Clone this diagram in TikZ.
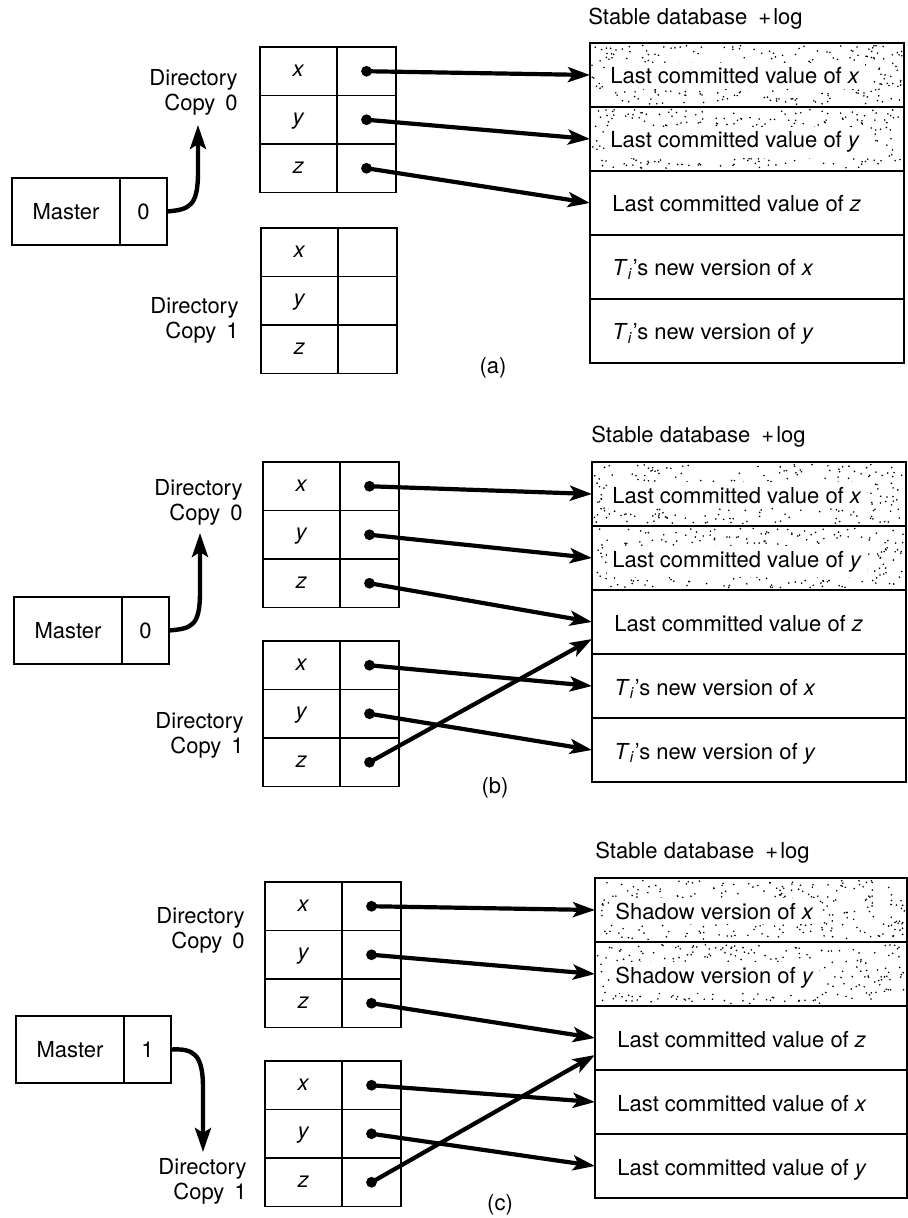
\documentclass[tikz,border=0pt]{standalone}
\usepackage{fontspec}
\setmainfont{TeX Gyre Heros}
\usetikzlibrary{calc,arrows.meta}
\tikzset{
  px/.style={x=0.5pt,y=-0.5pt},
  cellbase/.style={draw, line width=0.9pt, outer sep=0pt, inner sep=0pt},
  keycell/.style={cellbase, minimum width=38.5pt, minimum height=24.25pt, text height=0.52em, text depth=0pt},
  valcell/.style={cellbase, minimum width=29.5pt, minimum height=24.25pt},
  dbcell/.style={cellbase, minimum height=32pt},
  mastercell/.style={cellbase, minimum width=54pt, minimum height=33.5pt},
  numcell/.style={cellbase, minimum width=23.5pt, minimum height=33.5pt},
  dirlabel/.style={align=right, inner sep=0pt, anchor=east},
  dbtext/.style={anchor=base west, inner sep=0pt},
  shadetext/.style={anchor=base west, fill=white, inner sep=2.5pt},
  titletext/.style={anchor=west, inner sep=0pt},
  ptr/.style={line width=2.1pt, -{Stealth[length=11pt,width=7.5pt,inset=2.5pt]}},
  ptrdot/.style={circle, fill, inner sep=0pt, minimum size=5.4pt},
  masterarrow/.style={line width=2.2pt, -{Stealth[length=12pt,width=8pt,inset=2.5pt]}},
}
% directory table: #1 prefix, #2 x, #3 y
\newcommand\dirtab[3]{%
  \node[keycell, anchor=north west] (#1x) at (#2,#3) {\textit{x}};
  \node[valcell, anchor=north west] (#1xv) at (#1x.north east) {};
  \node[keycell, anchor=north west] (#1y) at (#1x.south west) {\textit{y}};
  \node[valcell, anchor=north west] (#1yv) at (#1y.north east) {};
  \node[keycell, anchor=north west] (#1z) at (#1y.south west) {\textit{z}};
  \node[valcell, anchor=north west] (#1zv) at (#1z.north east) {};
}
% stable database: #1 prefix, #2 x, #3 y, #4 width
\newcommand\stabledb[4]{%
  \node[dbcell, minimum width=#4, anchor=north west] (#1r1) at (#2,#3) {};
  \node[dbcell, minimum width=#4, anchor=north west] (#1r2) at (#1r1.south west) {};
  \node[dbcell, minimum width=#4, anchor=north west] (#1r3) at (#1r2.south west) {};
  \node[dbcell, minimum width=#4, anchor=north west] (#1r4) at (#1r3.south west) {};
  \node[dbcell, minimum width=#4, anchor=north west] (#1r5) at (#1r4.south west) {};
}
\newcommand\stip[1]{%
  \foreach \k in {1,...,300}{%
    \pgfmathsetmacro\rx{0.006+0.988*rnd}%
    \pgfmathsetmacro\ry{2.5+59*rnd}%
    \fill ($(#1.north west)!\rx!(#1.north east)$) ++(0,\ry) circle[radius=0.45pt];
  }%
}
\newcommand\Ti{\textit{T}\textsubscript{\textit{i}}'s}
\begin{document}
\begin{tikzpicture}[px, font=\fontsize{11pt}{12.5pt}\selectfont]
\pgfmathsetseed{4242}
\useasboundingbox (0,0) rectangle (908,1218);

% ================= (a) =================
\node[mastercell, anchor=north west] (ma) at (12,178) {Master};
\node[numcell, anchor=north west] (mna) at (ma.north east) {0};
\dirtab{a0}{260}{47}
\dirtab{a1}{261}{228}
\node[dirlabel] (la0) at (238,92.5) {Directory\\Copy\hspace{0.45em}0};
\node[dirlabel] (la1) at (239,320) {Directory\\Copy\hspace{0.45em}1};
\coordinate (tipa) at (198,125);
\draw[masterarrow] (mna.east) .. controls +(22,-2) and +(0,35) .. (198,172) -- (tipa);

\node[titletext] (ta) at (588,19) {Stable database\hspace{0.5em}+\hspace{0.1em}log};
\stabledb{sa}{590}{43}{157pt}
\stip{sar1}\stip{sar2}
\node[shadetext] at ($(sar1.west)+(15,9)$) {Last committed value of \textit{x}};
\node[shadetext] at ($(sar2.west)+(15,9)$) {Last committed value of \textit{y}};
\node[dbtext] at ($(sar3.west)+(22,9)$) {Last committed value of \textit{z}};
\node[dbtext] at ($(sar4.west)+(22,9)$) {\Ti{} new version of \textit{x}};
\node[dbtext] at ($(sar5.west)+(22,9)$) {\Ti{} new version of \textit{y}};
\node (pa) at (493,368) {(a)};

\node[ptrdot] (dax) at (a0xv.center) {};
\node[ptrdot] (day) at (a0yv.center) {};
\node[ptrdot] (daz) at (a0zv.center) {};
\draw[ptr] (dax.center) -- (sar1.west);
\draw[ptr] (day.center) -- (sar2.west);
\draw[ptr] (daz.center) -- (sar3.west);

% ================= (b) =================
\node[mastercell, anchor=north west] (mb) at (14,597) {Master};
\node[numcell, anchor=north west] (mnb) at (mb.north east) {0};
\dirtab{b0}{263}{462}
\dirtab{b1}{263}{641}
\node[dirlabel] (lb0) at (243,502) {Directory\\Copy\hspace{0.45em}0};
\node[dirlabel] (lb1) at (244,735) {Directory\\Copy\hspace{0.45em}1};
\coordinate (tipb) at (200,533);
\draw[masterarrow] (mnb.east) .. controls +(22,-2) and +(0,35) .. (200,592) -- (tipb);

\node[titletext] (tb) at (591,437) {Stable database\hspace{0.5em}+\hspace{0.1em}log};
\stabledb{sb}{592}{462}{157pt}
\stip{sbr1}\stip{sbr2}
\node[shadetext] at ($(sbr1.west)+(15,9)$) {Last committed value of \textit{x}};
\node[shadetext] at ($(sbr2.west)+(15,9)$) {Last committed value of \textit{y}};
\node[dbtext] at ($(sbr3.west)+(22,9)$) {Last committed value of \textit{z}};
\node[dbtext] at ($(sbr4.west)+(22,9)$) {\Ti{} new version of \textit{x}};
\node[dbtext] at ($(sbr5.west)+(22,9)$) {\Ti{} new version of \textit{y}};
\node (pb) at (495,788) {(b)};

\node[ptrdot] (dbx) at (b0xv.center) {};
\node[ptrdot] (dby) at (b0yv.center) {};
\node[ptrdot] (dbz) at (b0zv.center) {};
\node[ptrdot] (dbx1) at (b1xv.center) {};
\node[ptrdot] (dby1) at (b1yv.center) {};
\node[ptrdot] (dbz1) at (b1zv.center) {};
\coordinate (sbz) at ($(sbr3.south west)+(0,-15)$);
\draw[ptr] (dbx.center) -- (sbr1.west);
\draw[ptr] (dby.center) -- (sbr2.west);
\draw[ptr] (dbz.center) -- (sbr3.west);
\draw[ptr] (dbx1.center) -- (sbr4.west);
\draw[ptr] (dby1.center) -- (sbr5.west);
\draw[ptr] (dbz1.center) -- (sbz);

% ================= (c) =================
\node[mastercell, anchor=north west] (mc) at (16,1016) {Master};
\node[numcell, anchor=north west] (mnc) at (mc.north east) {1};
\dirtab{c0}{265}{882}
\dirtab{c1}{265}{1061}
\node[dirlabel] (lc0) at (245,930) {Directory\\Copy\hspace{0.45em}0};
\node[dirlabel] (lc1) at (247,1181) {Directory\\Copy\hspace{0.45em}1};
\coordinate (tipc) at (203,1152);
\draw[masterarrow] (mnc.east) .. controls +(22,-1) and +(0,-35) .. (203,1088) -- (tipc);

\node[titletext] (tc) at (595,853) {Stable database\hspace{0.5em}+\hspace{0.1em}log};
\stabledb{sc}{595}{878}{156pt}
\stip{scr1}\stip{scr2}
\node[shadetext] at ($(scr1.west)+(15,9)$) {Shadow version of \textit{x}};
\node[shadetext] at ($(scr2.west)+(15,9)$) {Shadow version of \textit{y}};
\node[dbtext] at ($(scr3.west)+(22,9)$) {Last committed value of \textit{z}};
\node[dbtext] at ($(scr4.west)+(22,9)$) {Last committed value of \textit{x}};
\node[dbtext] at ($(scr5.west)+(22,9)$) {Last committed value of \textit{y}};
\node (pc) at (500,1205) {(c)};

\node[ptrdot] (dcx) at (c0xv.center) {};
\node[ptrdot] (dcy) at (c0yv.center) {};
\node[ptrdot] (dcz) at (c0zv.center) {};
\node[ptrdot] (dcx1) at (c1xv.center) {};
\node[ptrdot] (dcy1) at (c1yv.center) {};
\node[ptrdot] (dcz1) at (c1zv.center) {};
\coordinate (scz) at ($(scr3.south west)+(0,-15)$);
\draw[ptr] (dcx.center) -- (scr1.west);
\draw[ptr] (dcy.center) -- (scr2.west);
\draw[ptr] (dcz.center) -- (scr3.west);
\draw[ptr] (dcx1.center) -- (scr4.west);
\draw[ptr] (dcy1.center) -- (scr5.west);
\draw[ptr] (dcz1.center) -- (scz);
\end{tikzpicture}
\end{document}
